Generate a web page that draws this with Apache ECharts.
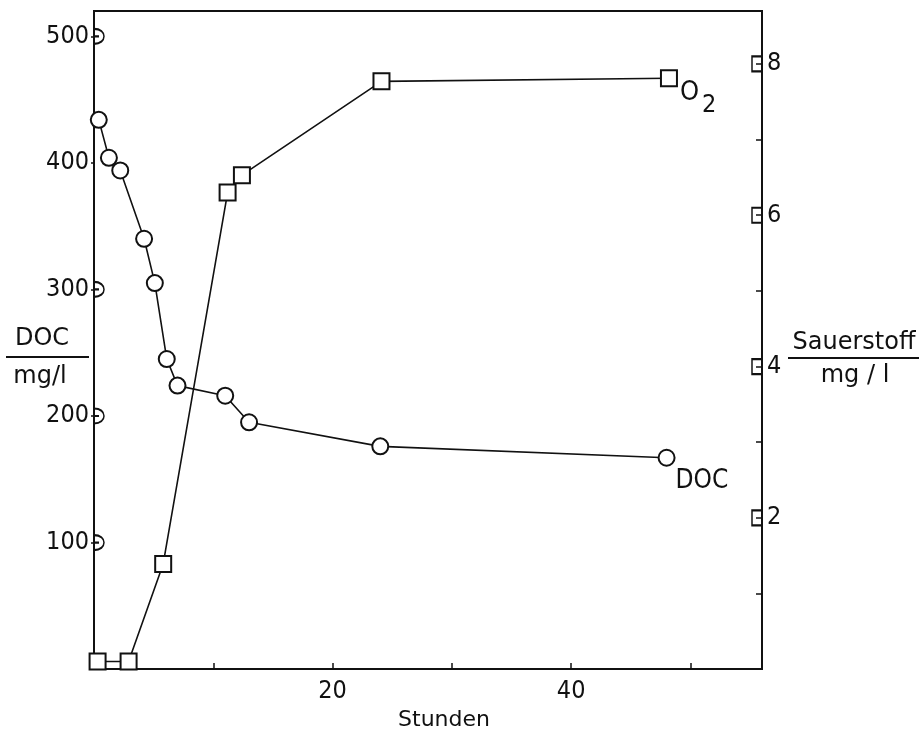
<!DOCTYPE html>
<html>
<head>
<meta charset="utf-8">
<script src="https://cdn.jsdelivr.net/npm/echarts@6/dist/echarts.min.js"></script>
<style>
  html, body { margin: 0; padding: 0; background: #fff; }
  #chart { width: 919px; height: 736px; }
</style>
</head>
<body>
<div id="chart"></div>
<script>
// ---- data ----
const docHours  = [0.4, 1.25, 2.2, 4.2, 5.1, 6.1, 7.0, 11.0, 13.0, 24.0, 48.0];
const docValues = [434, 404, 394, 340, 305, 245, 224, 216, 195, 176, 167];
const o2Hours   = [0.3, 2.9, 5.8, 11.2, 12.4, 24.1, 48.2];
const o2Values  = [0.1, 0.1, 1.39, 6.3, 6.53, 7.77, 7.81];

const xLabelTicks   = [20, 40];
const docLabelTicks = [100, 200, 300, 400, 500];
const o2LabelTicks  = [2, 4, 6, 8];
const docAxisMarks  = [100, 200, 300, 500];   // half-circle markers on left axis
const o2AxisMarks   = [2, 4, 6, 8];           // half-square markers on right axis

const X_MAX = 56, DOC_MAX = 520, O2_MAX = 8.7;

const ink = '#111';
const numFont = "'Liberation Sans Narrow', 'DejaVu Sans Condensed', sans-serif";
const textFont = "'DejaVu Sans', sans-serif";

const chart = echarts.init(document.getElementById('chart'), null, { renderer: 'canvas' });

const docData = docHours.map((h, i) => [h, docValues[i]]);
docData[docData.length - 1] = {
  value: docData[docData.length - 1],
  label: {
    show: true, formatter: 'DOC', position: [18, 33],
    align: 'left', verticalAlign: 'middle',
    fontFamily: numFont, fontSize: 26, color: ink
  }
};
const o2Data = o2Hours.map((h, i) => [h, o2Values[i]]);
o2Data[o2Data.length - 1] = {
  value: o2Data[o2Data.length - 1],
  label: {
    show: true, formatter: '{a|O}{b|2}', position: [20, 10],
    align: 'left', verticalAlign: 'top', color: ink,
    rich: {
      a: { fontFamily: numFont, fontSize: 27, color: ink, padding: [0, 0, 13, 0] },
      b: { fontFamily: numFont, fontSize: 25, color: ink, padding: [13, 0, 0, 3] }
    }
  }
};

const option = {
  animation: false,
  backgroundColor: '#fff',
  grid: {
    left: 94, right: 157, top: 11, bottom: 61,
    show: true, borderColor: ink, borderWidth: 2, backgroundColor: 'transparent'
  },
  xAxis: {
    type: 'value', min: 0, max: X_MAX, interval: 10,
    name: 'Stunden', nameLocation: 'middle', nameGap: 33,
    nameTextStyle: { fontFamily: textFont, fontSize: 22, color: ink, padding: [0, 0, 0, 32] },
    axisLine: { show: true, lineStyle: { color: ink, width: 2 } },
    axisTick: { show: true, inside: true, length: 6, lineStyle: { color: ink, width: 1.5 } },
    axisLabel: {
      margin: 10, fontFamily: numFont, fontSize: 25, color: ink,
      showMinLabel: false, showMaxLabel: false,
      formatter: v => xLabelTicks.includes(v) ? String(v) : ''
    },
    splitLine: { show: false }
  },
  yAxis: [
    {
      type: 'value', position: 'left', min: 0, max: DOC_MAX, interval: 100,
      axisLine: { show: true, lineStyle: { color: ink, width: 2 } },
      axisTick: { show: true, inside: false, length: 3, lineStyle: { color: ink, width: 1.5 } },
      axisLabel: {
        margin: 5, fontFamily: numFont, fontSize: 25, color: ink,
        showMinLabel: false, showMaxLabel: false,
        formatter: v => docLabelTicks.includes(v) ? String(v) : ''
      },
      splitLine: { show: false }
    },
    {
      type: 'value', position: 'right', min: 0, max: O2_MAX, interval: 1,
      axisLine: { show: true, lineStyle: { color: ink, width: 2 } },
      axisTick: { show: true, inside: true, length: 6, lineStyle: { color: ink, width: 1.5 } },
      axisLabel: {
        margin: 5, fontFamily: numFont, fontSize: 25, color: ink,
        showMinLabel: false, showMaxLabel: false,
        formatter: v => o2LabelTicks.includes(v) ? String(v) : ''
      },
      splitLine: { show: false }
    }
  ],
  series: [
    {
      name: 'DOC', type: 'line', yAxisIndex: 0, data: docData,
      symbol: 'circle', symbolSize: 16, showAllSymbol: true,
      lineStyle: { color: ink, width: 1.6 },
      itemStyle: { color: '#fff', borderColor: ink, borderWidth: 2 },
      z: 3
    },
    {
      name: 'O2', type: 'line', yAxisIndex: 1, data: o2Data,
      symbol: 'rect', symbolSize: 16, showAllSymbol: true,
      lineStyle: { color: ink, width: 1.6 },
      itemStyle: { color: '#fff', borderColor: ink, borderWidth: 2 },
      z: 3
    },
    {
      name: 'docMarks', type: 'scatter', yAxisIndex: 0,
      data: docAxisMarks.map(v => [0, v]),
      symbol: 'path://M0,0 C13.3,0 13.3,20 0,20 M0,10 L5,10', symbolKeepAspect: false,
      symbolSize: [10, 15], symbolOffset: [5, 0],
      silent: true, z: 4,
      itemStyle: { color: 'none', borderColor: ink, borderWidth: 1.8, opacity: 1 }
    },
    {
      name: 'o2Marks', type: 'scatter', yAxisIndex: 1,
      data: o2AxisMarks.map(v => [X_MAX, v]),
      symbol: 'path://M10,0 L0,0 L0,20 L10,20', symbolKeepAspect: false,
      symbolSize: [10, 15], symbolOffset: [-5, 0],
      silent: true, z: 4,
      itemStyle: { color: 'none', borderColor: ink, borderWidth: 1.8, opacity: 1 }
    }
  ],
  graphic: [
    { type: 'text', x: 42, y: 339,
      style: { text: 'DOC', font: "24px 'DejaVu Sans', sans-serif", fill: ink, align: 'center', verticalAlign: 'middle' } },
    { type: 'line', shape: { x1: 6, y1: 357, x2: 89, y2: 357 }, style: { stroke: ink, lineWidth: 2 } },
    { type: 'text', x: 40, y: 377,
      style: { text: 'mg/l', font: "24px 'DejaVu Sans', sans-serif", fill: ink, align: 'center', verticalAlign: 'middle' } },
    { type: 'text', x: 854, y: 343,
      style: { text: 'Sauerstoff', font: "24px 'DejaVu Sans', sans-serif", fill: ink, align: 'center', verticalAlign: 'middle' } },
    { type: 'line', shape: { x1: 788, y1: 358, x2: 919, y2: 358 }, style: { stroke: ink, lineWidth: 2 } },
    { type: 'text', x: 855, y: 376,
      style: { text: 'mg / l', font: "24px 'DejaVu Sans', sans-serif", fill: ink, align: 'center', verticalAlign: 'middle' } }
  ]
};

chart.setOption(option);
</script>
</body>
</html>
